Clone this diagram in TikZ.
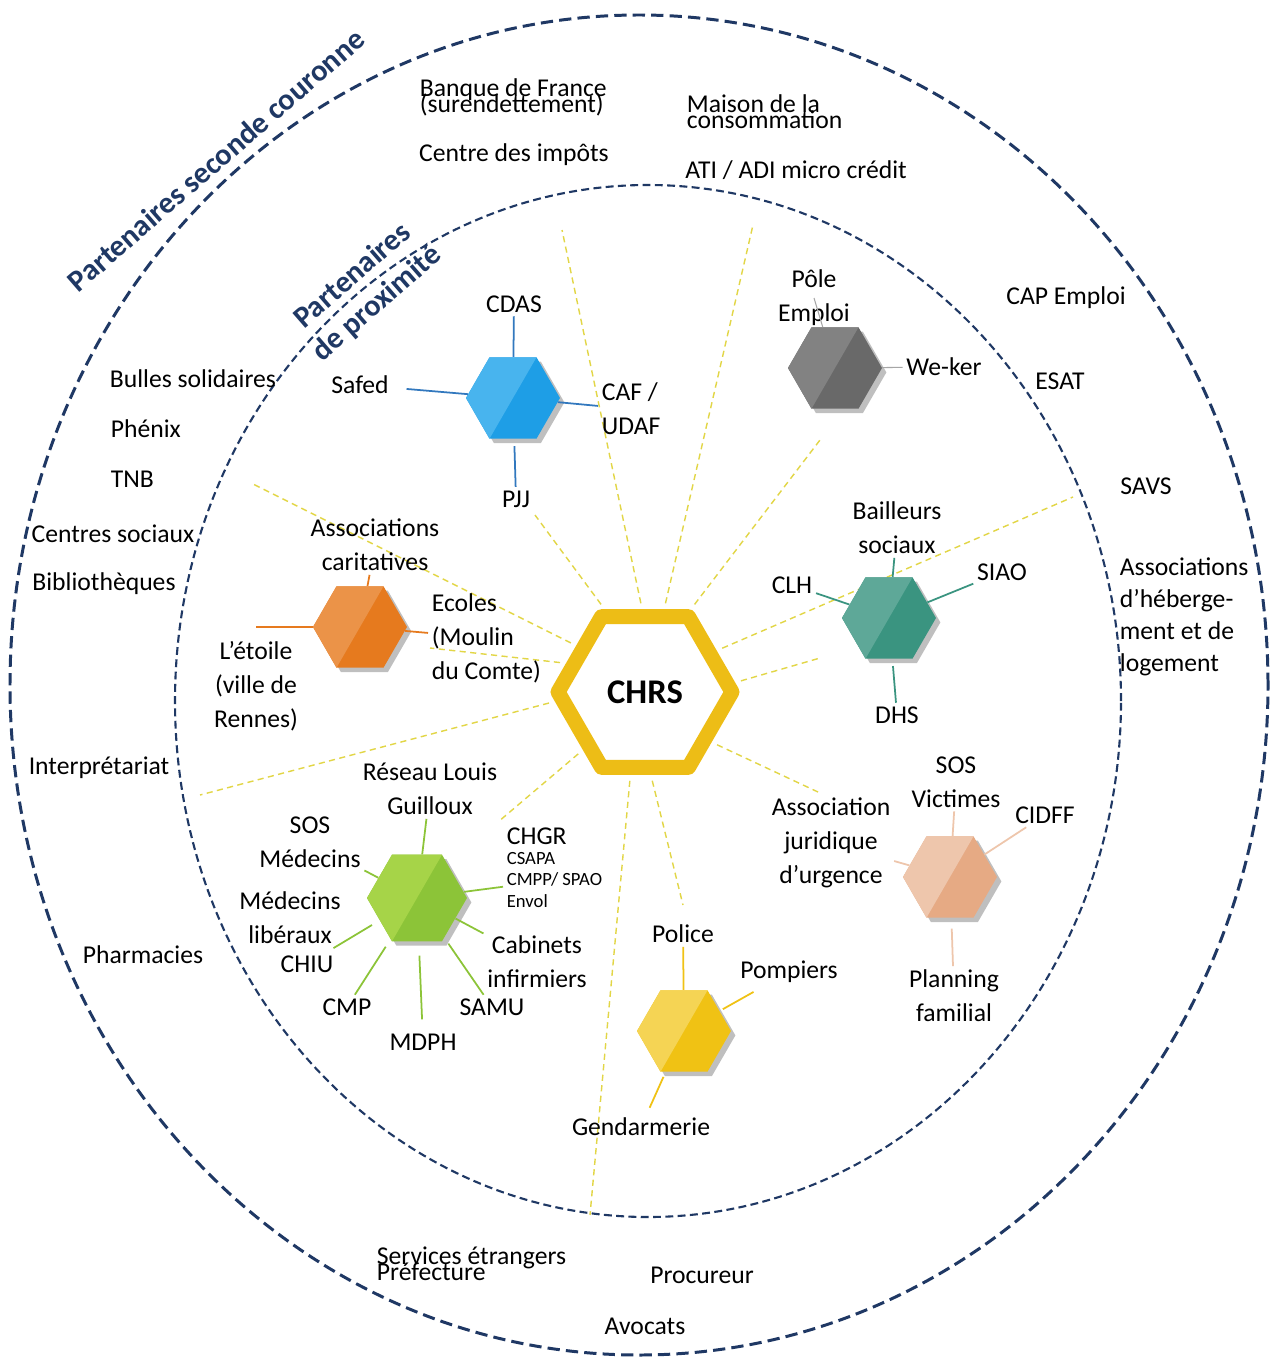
\documentclass[tikz,border=0pt]{standalone}
\usepackage{fontspec}
\setmainfont{Carlito}
\usetikzlibrary{shapes.geometric,shadows}

\definecolor{navy}{RGB}{31,56,100}
\definecolor{chrsyellow}{RGB}{237,189,22}
\definecolor{rayyellow}{RGB}{226,214,70}
\definecolor{bluedark}{RGB}{30,158,230}
\definecolor{bluelight}{RGB}{72,180,238}
\definecolor{bluelink}{RGB}{50,120,190}
\definecolor{graydark}{RGB}{105,105,105}
\definecolor{graylight}{RGB}{130,130,130}
\definecolor{orangedark}{RGB}{230,122,30}
\definecolor{orangelight}{RGB}{235,147,72}
\definecolor{tealdark}{RGB}{58,148,128}
\definecolor{teallight}{RGB}{94,168,152}
\definecolor{peachdark}{RGB}{230,170,132}
\definecolor{peachlight}{RGB}{238,198,172}
\definecolor{greendark}{RGB}{140,196,56}
\definecolor{greenlight}{RGB}{166,212,72}
\definecolor{yellowdark}{RGB}{240,194,20}
\definecolor{yellowlight}{RGB}{245,212,84}

\begin{document}
\begin{tikzpicture}[x=0.02cm, y=0.02cm,
		lbl/.style={font=\fontsize{14.6}{19.4}\selectfont, align=center, inner sep=2pt},
		tight/.style={font={\fontsize{14.6}{9}\selectfont\lineskiplimit-30pt}, align=left, anchor=west, inner sep=2pt},
		small/.style={font=\fontsize{10.6}{12}\selectfont, align=left, anchor=west, inner sep=2pt},
		title/.style={font=\fontsize{17.3}{21}\selectfont\bfseries, text=navy, rotate=41, align=center},
		hexa/.style={regular polygon, regular polygon sides=6, minimum size=1.88cm, inner sep=0pt,
			drop shadow={shadow xshift=2.5pt, shadow yshift=-2.5pt, fill=black, opacity=0.25}},
		ray/.style={draw=rayyellow, line width=0.8pt, dash pattern=on 3.5pt off 2.5pt, shorten <=0.12cm},
		link/.style={line width=1pt}]

			\useasboundingbox[fill=white] (0,0) rectangle (1273,-1358);

			\draw[navy, line width=1.7pt, dash pattern=on 7pt off 3.5pt] (639,-685) ellipse [x radius=629, y radius=670];
			\draw[navy, line width=1.2pt, dash pattern=on 4.5pt off 2.5pt] (648,-701) ellipse [x radius=473, y radius=516];

			\node[title] (seconde) at (216,-160) {Partenaires seconde couronne};
			\node[title] (proxi) at (365,-290) {Partenaires\\de proximité};

			\node[regular polygon, regular polygon sides=6, minimum size=3.48cm, draw=chrsyellow, line width=0.3cm,
				line join=round, font=\fontsize{19.7}{20}\selectfont\bfseries] (chrs) at (645,-692) {CHRS};

			\coordinate (r1) at (251,-483);
			\coordinate (r2) at (430,-648);
			\coordinate (r3) at (200,-795);
			\coordinate (r4) at (498,-822);
			\coordinate (r5) at (590,-1215);
			\coordinate (r6) at (683,-905);
			\coordinate (r7) at (818,-792);
			\coordinate (r8) at (820,-658);
			\coordinate (r9) at (1073,-497);
			\coordinate (r10) at (820,-440);
			\coordinate (r11) at (753,-225);
			\coordinate (r12) at (562,-230);
			\coordinate (r13) at (535,-515);
			\foreach \a/\r in {146/r1, 160/r2, 186/r3, 223/r4, 260/r5, 274/r6, 323/r7,
				6/r8, 30/r9, 61/r10, 77/r11, 92/r12, 116/r13}
				\draw[ray] (chrs.\a) -- (\r);

			\node[lbl] (impots) at (514,-155) {Centre des impôts};
			\node[tight] (banque) at (416,-97) {Banque de France\\(surendettement)};
			\node[tight] (maison) at (683,-112) {Maison de la\\consommation};
			\node[lbl] (ati) at (796,-170) {ATI / ADI micro crédit};
			\node[lbl] (cap) at (1066,-298) {CAP Emploi};
			\node[lbl] (esat) at (1060,-381) {ESAT};
			\node[lbl] (savs) at (1146,-486) {SAVS};
			\node[lbl, anchor=west, align=left, font=\fontsize{14.6}{18.2}\selectfont] (heberg) at (1116,-617)
				{Associations\\d’héberge-\\ment et de\\logement};
			\node[lbl] (bulles) at (193,-379) {Bulles solidaires};
			\node[lbl, anchor=west] (phenix) at (107,-429) {Phénix};
			\node[lbl, anchor=west] (tnb) at (107,-479) {TNB};
			\node[lbl] (centres) at (113,-534) {Centres sociaux};
			\node[lbl] (biblio) at (104,-584) {Bibliothèques};
			\node[lbl] (interp) at (99,-768) {Interprétariat};
			\node[lbl] (pharma) at (143,-955) {Pharmacies};
			\node[tight] (services) at (373,-1264) {Services étrangers\\Préfecture};
			\node[lbl] (procureur) at (702,-1275) {Procureur};
			\node[lbl] (avocats) at (645,-1326) {Avocats};

			\node[hexa, fill=bluedark] (cdashex) at (513,-398) {};
			\node[hexa, fill=graydark] (polehex) at (835,-368) {};
			\node[hexa, fill=orangedark] (carithex) at (360,-627) {};
			\node[hexa, fill=tealdark] (bailhex) at (889,-618) {};
			\node[hexa, fill=peachdark] (juridhex) at (950,-877) {};
			\node[hexa, fill=greendark, minimum size=2cm] (santehex) at (417,-898) {};
			\node[hexa, fill=yellowdark] (policehex) at (684,-1031) {};
			\foreach \h/\c/\s in {cdashex/bluelight/0.94cm, polehex/graylight/0.94cm, carithex/orangelight/0.94cm,
				bailhex/teallight/0.94cm, juridhex/peachlight/0.94cm, santehex/greenlight/1cm, policehex/yellowlight/0.94cm}
				\fill[\c] (\h.center) +(60:\s) -- +(120:\s) -- +(180:\s) -- +(240:\s) -- cycle;

			\node[lbl] (cdas) at (514,-304) {CDAS};
			\node[lbl] (safed) at (360,-385) {Safed};
			\node[lbl, anchor=west, align=left] (caf) at (598,-409) {CAF /\\UDAF};
			\node[lbl] (pjj) at (516,-499) {PJJ};
			\draw[link, bluelink] (cdas) -- (cdashex);
			\draw[link, bluelink, shorten <=8pt] (safed) -- (cdashex);
			\draw[link, bluelink] (caf) -- (cdashex);
			\draw[link, bluelink, shorten >=4pt] (pjj) -- (cdashex);

			\node[lbl] (pole) at (814,-298) {Pôle\\Emploi};
			\node[lbl] (weker) at (944,-367) {We-ker};
			\draw[link, gray!70, line width=0.6pt] (pole.center) -- (polehex);
			\draw[link, gray!70, line width=0.6pt] (weker) -- (polehex);

			\node[lbl] (carit) at (375,-545) {Associations\\caritatives};
			\node[lbl, anchor=west, align=left] (ecoles) at (428,-638) {Ecoles\\(Moulin\\du Comte)};
			\node[lbl] (etoile) at (256,-686) {L’étoile\\(ville de\\Rennes)};
			\draw[link, orangedark] (carit) -- (carithex);
			\draw[link, orangedark] (ecoles) -- (carithex);
			\draw[link, orangedark] (carithex.west) -- (carithex.west -| etoile);

			\node[lbl] (bailleurs) at (897,-528) {Bailleurs\\sociaux};
			\node[lbl] (clh) at (792,-585) {CLH};
			\node[lbl] (siao) at (1002,-572) {SIAO};
			\node[lbl] (dhs) at (897,-715) {DHS};
			\draw[link, tealdark] (bailleurs) -- (bailhex);
			\draw[link, tealdark] (clh) -- (bailhex);
			\draw[link, tealdark] (siao) -- (bailhex);
			\draw[link, tealdark, shorten >=4pt] (dhs) -- (bailhex);

			\node[lbl] (sosvict) at (956,-782) {SOS\\Victimes};
			\node[lbl] (jurid) at (831,-843) {Association\\juridique\\d’urgence};
			\node[lbl] (cidff) at (1045,-815) {CIDFF};
			\node[lbl] (planning) at (954,-996) {Planning\\familial};
			\draw[link, peachlight] (sosvict) -- (juridhex);
			\draw[link, peachlight] (jurid) -- (juridhex);
			\draw[link, peachlight] (cidff) -- (juridhex);
			\draw[link, peachlight, shorten >=6pt] (planning) -- (juridhex);

			\node[lbl] (reseau) at (430,-789) {Réseau Louis\\Guilloux};
			\node[lbl] (sosmed) at (310,-842) {SOS\\Médecins};
			\node[lbl] (medlib) at (290,-918) {Médecins\\libéraux};
			\node[lbl] (chiu) at (307,-964) {CHIU};
			\node[lbl] (cmp) at (347,-1007) {CMP};
			\node[lbl] (mdph) at (423,-1042) {MDPH};
			\node[lbl] (samu) at (492,-1007) {SAMU};
			\node[lbl] (cabinets) at (537,-962) {Cabinets\\infirmiers};
			\node[lbl, anchor=west] (chgr) at (503,-836) {CHGR};
			\node[small] (csapa) at (503,-880) {CSAPA\\CMPP/ SPAO\\Envol};
			\draw[link, greendark] (reseau) -- (santehex);
			\draw[link, greendark] (sosmed) -- (santehex);
			\draw[link, greendark, shorten <=4pt, shorten >=5pt] (chiu) -- (santehex);
			\draw[link, greendark, shorten >=5pt] (cmp) -- (santehex);
			\draw[link, greendark, shorten <=6pt, shorten >=8pt] (mdph) -- (santehex);
			\draw[link, greendark, shorten >=4pt] (samu) -- (santehex);
			\draw[link, greendark] (cabinets) -- (santehex);
			\draw[link, greendark] (csapa) -- (santehex);

			\node[lbl] (police) at (683,-934) {Police};
			\node[lbl] (pompiers) at (789,-972) {Pompiers};
			\node[lbl] (gendarmerie) at (641,-1127) {Gendarmerie};
			\draw[link, yellowdark] (police) -- (policehex);
			\draw[link, yellowdark, shorten <=6pt, shorten >=2pt] (pompiers) -- (policehex);
			\draw[link, yellowdark, shorten <=4pt, shorten >=3pt] (gendarmerie) -- (policehex);

		\end{tikzpicture}
\end{document}
